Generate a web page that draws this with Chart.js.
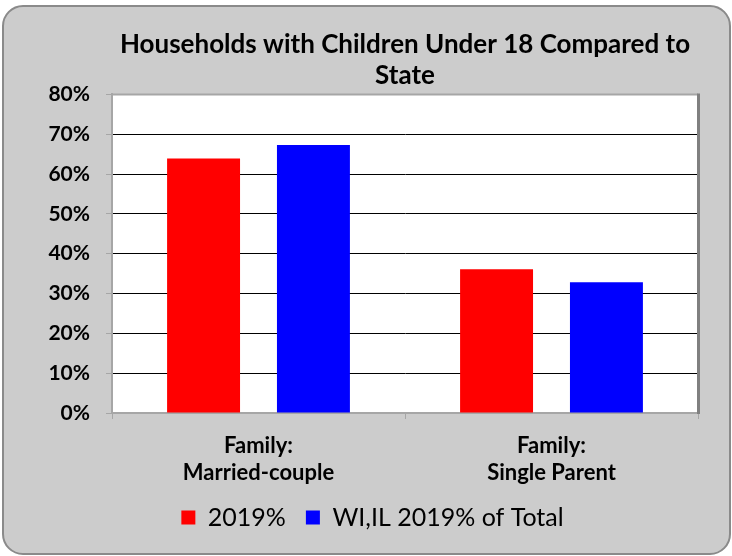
<!DOCTYPE html>
<html lang="en">
<head>
    <meta charset="UTF-8">
    <title>Households with Children Under 18 Compared to State</title>
    <script src="https://cdn.jsdelivr.net/npm/chart.js"></script>
    <style>
        body {
            margin: 0;
            padding: 0;
            background-color: #ffffff;
        }
        #chart-container {
            width: 732px;
            height: 556px;
        }
    </style>
</head>
<body>
    <div id="chart-container">
        <canvas id="householdsChart"></canvas>
    </div>
    <script>
        const categories = [['Family:', 'Married-couple'], ['Family:', 'Single Parent']];
        const localValues = [63.9, 36.1];
        const stateValues = [67.3, 32.8];
        const seriesNames = ['2019%', 'WI,IL 2019% of Total'];
        const yTicks = [0, 10, 20, 30, 40, 50, 60, 70, 80];

        const FONT = 'Lato, "Open Sans", sans-serif';

        // grey rounded frame + white plot area + darker right/top edge
        const framePlugin = {
            id: 'frame',
            beforeDraw(chart) {
                const ctx = chart.ctx;
                const a = chart.chartArea;
                ctx.save();
                ctx.beginPath();
                ctx.roundRect(3, 6, 727, 548, 20);
                ctx.fillStyle = '#cccccc';
                ctx.fill();
                ctx.lineWidth = 2;
                ctx.strokeStyle = '#8a8a8a';
                ctx.stroke();
                ctx.fillStyle = '#ffffff';
                ctx.fillRect(a.left, a.top, a.right - a.left, a.bottom - a.top);
                ctx.restore();
            },
            afterDraw(chart) {
                const ctx = chart.ctx;
                const a = chart.chartArea;
                ctx.save();
                ctx.lineWidth = 2;
                ctx.strokeStyle = '#a6a6a6';
                ctx.beginPath();
                ctx.moveTo(a.left, a.top);
                ctx.lineTo(a.right, a.top);
                ctx.stroke();
                ctx.lineWidth = 3;
                ctx.strokeStyle = '#808080';
                ctx.beginPath();
                ctx.moveTo(a.right + 0.5, a.top - 1);
                ctx.lineTo(a.right + 0.5, a.bottom + 1);
                ctx.stroke();
                ctx.restore();
            }
        };

        const ctx = document.getElementById('householdsChart').getContext('2d');
        new Chart(ctx, {
            type: 'bar',
            data: {
                labels: categories,
                datasets: [
                    {
                        label: seriesNames[0],
                        data: localValues,
                        backgroundColor: '#ff0000',
                        borderWidth: 0,
                    },
                    {
                        label: seriesNames[1],
                        data: stateValues,
                        backgroundColor: '#0000ff',
                        borderWidth: 0,
                    },
                ],
            },
            options: {
                responsive: true,
                maintainAspectRatio: false,
                animation: false,
                categoryPercentage: 0.75,
                barPercentage: 0.664,
                layout: {
                    padding: { left: 47, right: 34, top: 29, bottom: 16 },
                },
                plugins: {
                    title: {
                        display: true,
                        fullSize: false,
                        text: ['Households with Children Under 18 Compared to', 'State'],
                        color: '#000000',
                        font: { family: FONT, size: 26, weight: 'bold', lineHeight: 1.2 },
                        padding: { top: 0, bottom: 3 },
                    },
                    legend: {
                        position: 'bottom',
                        labels: {
                            color: '#000000',
                            boxWidth: 14,
                            boxHeight: 14,
                            padding: 20,
                            font: { family: FONT, size: 25 },
                        },
                    },
                    tooltip: { enabled: false },
                },
                scales: {
                    x: {
                        grid: {
                            offset: true,
                            drawOnChartArea: false,
                            tickLength: 6,
                            tickColor: '#a6a6a6',
                        },
                        border: { display: true, color: '#a6a6a6', width: 2 },
                        ticks: {
                            color: '#000000',
                            padding: 14,
                            font: { family: FONT, size: 22, weight: 'bold', lineHeight: 1.2 },
                        },
                        afterFit(scale) {
                            scale.height = 72;
                        },
                    },
                    y: {
                        min: 0,
                        max: 80,
                        afterBuildTicks(scale) {
                            scale.ticks = yTicks.map(v => ({ value: v }));
                        },
                        grid: {
                            color: c => (c.tick && (c.tick.value === 0 || c.tick.value === 80)) ? 'rgba(0,0,0,0)' : '#000000',
                            lineWidth: 1,
                            tickLength: 6,
                            tickColor: '#a6a6a6',
                        },
                        border: { display: true, color: '#a6a6a6', width: 2 },
                        ticks: {
                            color: '#000000',
                            padding: 16,
                            font: { family: FONT, size: 21, weight: 'bold' },
                            callback: v => v + '%',
                        },
                        afterFit(scale) {
                            scale.width = 65;
                        },
                    },
                },
            },
            plugins: [framePlugin],
        });
    </script>
</body>
</html>
